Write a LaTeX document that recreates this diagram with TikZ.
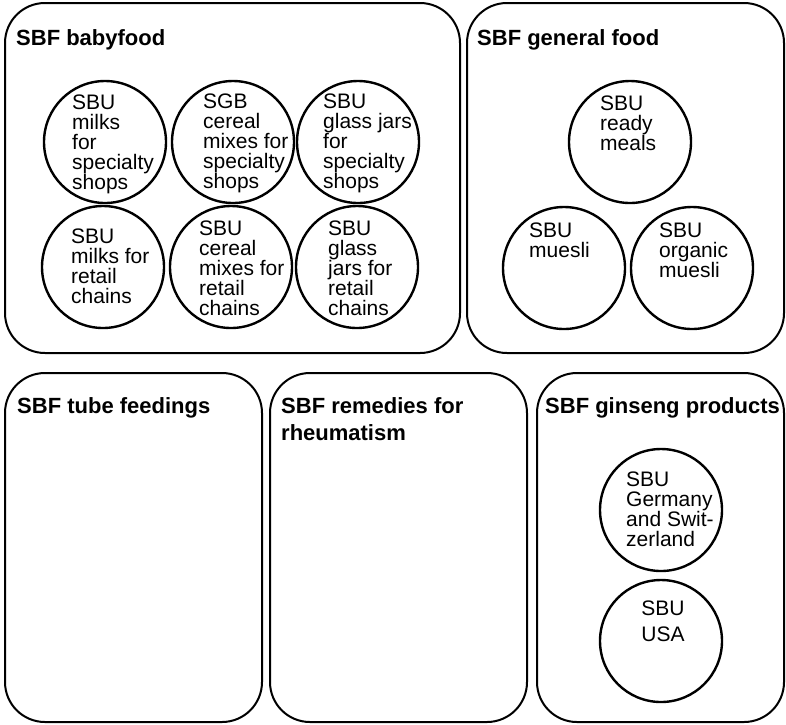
\documentclass[tikz,border=0pt]{standalone}
\usepackage{fontspec}
\setmainfont{Liberation Sans}
\begin{document}
\begin{tikzpicture}[x=1pt,y=-1pt,
  group/.style={draw, line width=2pt, rounded corners=40pt, inner sep=0pt},
  unit/.style={draw, circle, line width=2.4pt, minimum size=122pt, inner sep=0pt},
  grouptitle/.style={anchor=base west, inner sep=0pt, align=left,
    font=\fontsize{22}{27}\selectfont\bfseries},
  unittext/.style={anchor=base west, inner sep=0pt, align=left,
    font=\fontsize{21}{20}\selectfont}]
\useasboundingbox (0,0) rectangle (786,724);

% strategic business fields
\node[group, minimum width=455pt, minimum height=350pt] (babyfood) at (232.5,178) {};
\node[group, minimum width=317pt, minimum height=350pt] (general) at (625.5,178) {};
\node[group, minimum width=257pt, minimum height=349pt] (tube) at (133.5,547.5) {};
\node[group, minimum width=257pt, minimum height=349pt] (remedies) at (398.5,547.5) {};
\node[group, minimum width=247pt, minimum height=349pt] (ginseng) at (660.5,547.5) {};

% titles (multi-line nodes are placed by the baseline of their last line)
\node[grouptitle] (tbaby) at (16,45) {SBF babyfood};
\node[grouptitle] (tgen) at (477,45) {SBF general food};
\node[grouptitle] (ttube) at (17,413) {SBF tube feedings};
\node[grouptitle] (trem) at (281,440) {SBF remedies for\\rheumatism};
\node[grouptitle] (tgin) at (545,413) {SBF ginseng products};

% babyfood units
\node[unit] (c1) at (105,142) {};
\node[unit] (c2) at (233,142) {};
\node[unit] (c3) at (358,142) {};
\node[unit] (c4) at (103,267) {};
\node[unit] (c5) at (231,267) {};
\node[unit] (c6) at (357,267) {};
\node[unittext] (l1) at (72,189) {SBU\\milks\\for\\specialty\\shops};
\node[unittext] (l2) at (203,188) {SGB\\cereal\\mixes for\\specialty\\shops};
\node[unittext] (l3) at (323,188) {SBU\\glass jars\\for\\specialty\\shops};
\node[unittext] (l4) at (71,303) {SBU\\milks for\\retail\\chains};
\node[unittext] (l5) at (199,315) {SBU\\cereal\\mixes for\\retail\\chains};
\node[unittext] (l6) at (328,315) {SBU\\glass\\jars for\\retail\\chains};

% general food units
\node[unit] (g1) at (630,142) {};
\node[unit] (g2) at (564,268) {};
\node[unit] (g3) at (692,268) {};
\node[unittext] (m1) at (600,150) {SBU\\ready\\meals};
\node[unittext] (m2) at (529,257) {SBU\\muesli};
\node[unittext] (m3) at (659,277) {SBU\\organic\\muesli};

% ginseng units
\node[unit] (s1) at (661,510) {};
\node[unit] (s2) at (661,641) {};
\node[unittext] (n1) at (626,546) {SBU\\Germany\\and Swit-\\zerland};
\node[anchor=base, inner sep=0pt, align=center,
  font=\fontsize{21}{26}\selectfont] (n2) at (663,641) {SBU\\USA};
\end{tikzpicture}
\end{document}
